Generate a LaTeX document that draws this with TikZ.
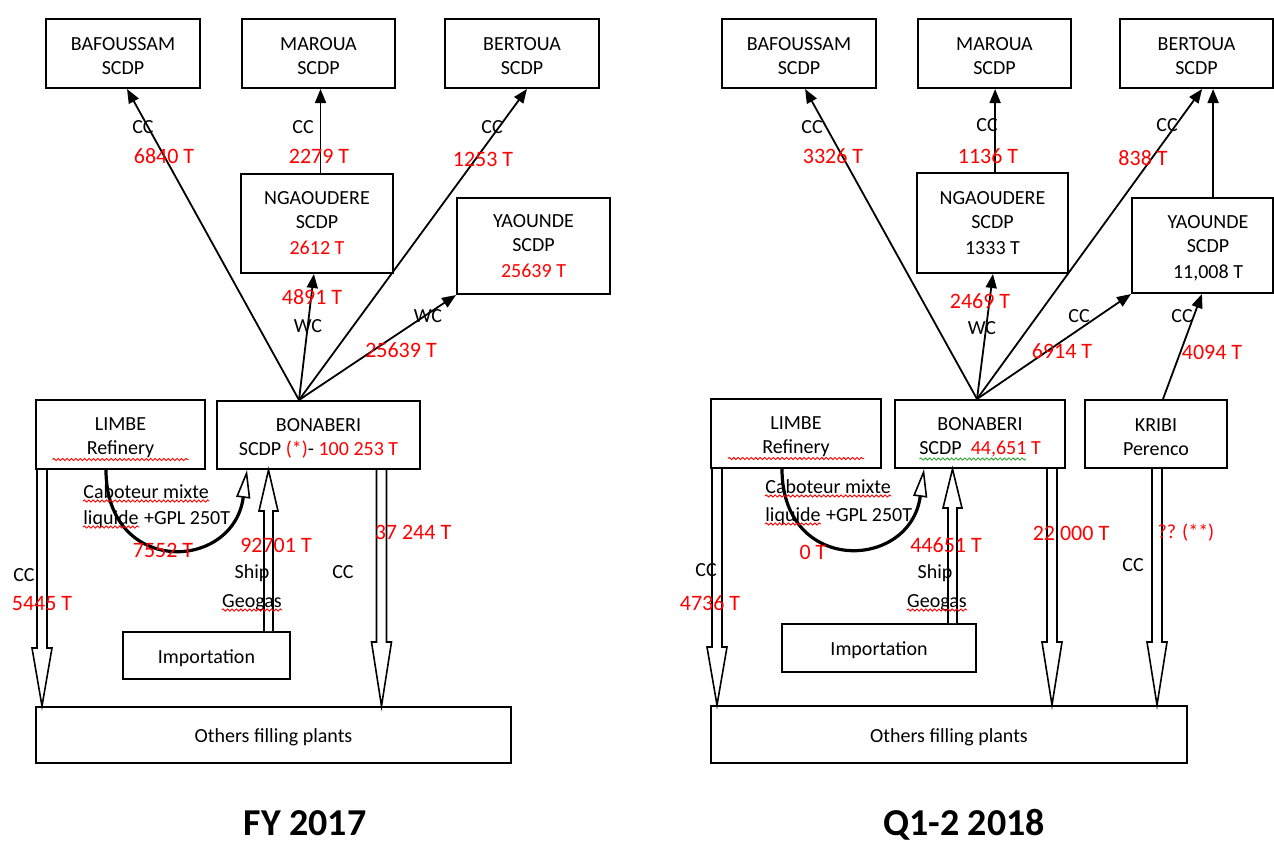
\documentclass[tikz,border=0pt]{standalone}
\usepackage{fontspec}
\setmainfont{Carlito}
\usetikzlibrary{arrows.meta,calc,decorations.pathmorphing}
% raises the first text line of a box so the text sits a little lower
\newcommand\boxstrut{\rule{0pt}{9.5pt}}
% open block arrows: start coordinate, target anchor (its y is used), head length
\newcommand\blockdown[3]{\draw[blk] let \p1=(#1), \p2=(#2) in
  (\x1-2.5pt,\y1) -- (\x1-2.5pt,\y2+#3) -- (\x1-5pt,\y2+#3) -- (\x1,\y2)
  -- (\x1+5pt,\y2+#3) -- (\x1+2.5pt,\y2+#3) -- (\x1+2.5pt,\y1);}
\newcommand\blockup[3]{\draw[blk] let \p1=(#1), \p2=(#2) in
  (\x1-2.25pt,\y1) -- (\x1-2.25pt,\y2-#3) -- (\x1-4.75pt,\y2-#3) -- (\x1,\y2)
  -- (\x1+4.75pt,\y2-#3) -- (\x1+2.25pt,\y2-#3) -- (\x1+2.25pt,\y1);}
\tikzset{
  box/.style={draw, line width=1pt, inner sep=0pt, align=center, font=\fontsize{10}{12}\selectfont},
  arr/.style={line width=0.9pt, -{Triangle[length=7pt,width=5.5pt]}},
  blk/.style={draw, line width=0.8pt, fill=white, line join=miter},
  lbl/.style={inner sep=0pt, font=\fontsize{10}{12}\selectfont},
  num/.style={inner sep=0pt, text=red, font=\fontsize{11}{13}\selectfont},
  curvearr/.style={line width=1.6pt, -{Triangle[open, length=14pt, width=7pt, line width=0.8pt]}},
  heading/.style={inner sep=0pt, anchor=base, font=\fontsize{19}{23}\selectfont\bfseries},
  wavy/.style={draw=red, line width=0.45pt, decorate, decoration={snake, amplitude=0.55pt, segment length=2.2pt}},
  greenwavy/.style={wavy, draw={rgb,1:red,0.2;green,0.65;blue,0.2}},
}
\begin{document}
\begin{tikzpicture}[x=0.5pt, y=-0.5pt]
\useasboundingbox[fill=white] (0,0) rectangle (1274,842);

% ---------------- FY 2017 ----------------
\node[box, minimum width=77pt, minimum height=34.5pt] (bafL) at (123,53.5) {\boxstrut BAFOUSSAM\\SCDP};
\node[box, minimum width=76.5pt, minimum height=34.5pt] (marL) at (318.5,53.5) {\boxstrut MAROUA\\SCDP};
\node[box, minimum width=77pt, minimum height=34.5pt] (berL) at (522,53.5) {\boxstrut BERTOUA\\SCDP};
\node[box, minimum width=76pt, minimum height=49.5pt] (ngaL) at (317,223.5) {NGAOUDERE\\SCDP\\[1pt]\textcolor{red}{2612 T}};
\node[box, minimum width=76.5pt, minimum height=48pt] (yaoL) at (533.5,246) {YAOUNDE\\SCDP\\[1pt]\textcolor{red}{25639 T}};
\node[box, minimum width=84.5pt, minimum height=34.5pt] (limL) at (120.5,434.5) {\boxstrut LIMBE\\Refinery};
\node[box, minimum width=101.5pt, minimum height=34pt] (bonL) at (318.5,435) {\boxstrut BONABERI\\SCDP \textcolor{red}{(*)}- \textcolor{red}{100 253 T}};
\node[box, minimum width=83.5pt, minimum height=23.5pt] (impL) at (206.5,655.5) {\boxstrut Importation};
\node[box, minimum width=237.5pt, minimum height=28pt] (othL) at (273.5,735) {\boxstrut Others filling plants};

\coordinate (fanL) at ([xshift=-9.75pt]bonL.north);
\draw[arr] (fanL) -- ($(bafL.south west)!.526!(bafL.south east)$);
\draw[arr] (fanL) -- ($(berL.south west)!.532!(berL.south east)$);
\draw[arr] (fanL) -- ($(ngaL.south west)!.48!(ngaL.south east)$);
\draw[arr] (fanL) -- (yaoL.south west);
\coordinate (nmL) at ($(ngaL.north west)!.523!(ngaL.north east)$);
\draw[arr] (nmL) -- (nmL |- marL.south);

\coordinate (lsL) at ([xshift=3.5pt]limL.south west);
\blockdown{lsL}{othL.north}{29pt}
\coordinate (bsL) at ([xshift=-19.75pt]bonL.south east);
\blockdown{bsL}{othL.north}{32pt}
\coordinate (isL) at ([xshift=-11.25pt]impL.north east);
\blockup{isL}{bonL.south}{20.5pt}
\draw[curvearr] ([xshift=35.5pt]limL.south west) .. controls +(0,106) and +(-14,102) .. ([xshift=15.5pt]bonL.south west);

\node[lbl] (cc1L) at (143,127) {CC};
\node[num] (t1L) at (164,156) {6840 T};
\node[lbl] (cc2L) at (303,127) {CC};
\node[num] (t2L) at (319,156) {2279 T};
\node[lbl] (cc3L) at (492,127) {CC};
\node[num] (t3L) at (483,159) {1253 T};
\node[num] (t4L) at (312,297) {4891 T};
\node[lbl] (wc1L) at (308,326) {WC};
\node[lbl] (wc2L) at (428,316) {WC};
\node[num] (t5L) at (401,350) {25639 T};
\node[lbl, anchor=base west] (cabL) at (83,498) {Caboteur mixte};
\node[lbl, anchor=base west] (liqL) at (83,524) {liquide};
\node[lbl, anchor=base west] (gplL) at ([xshift=2.3pt]liqL.base east) {+GPL 250T};
\node[num] (t6L) at (163,550) {7552 T};
\node[num] (t7L) at (276,545) {92701 T};
\node[lbl] (shipL) at (252,573) {Ship};
\node[lbl, anchor=base] (geoL) at (252,607) {Geogas};
\node[lbl] (cc4L) at (24,575) {CC};
\node[num] (t8L) at (42,603) {5445 T};
\node[num] (t9L) at (413,532) {37 244 T};
\node[lbl] (cc5L) at (343,572) {CC};
\node[heading] (headL) at (305,835) {FY 2017};

% spell-check squiggles
\draw[wavy] ([xshift=-34pt,yshift=-12.5pt]limL.center) -- ([xshift=34pt,yshift=-12.5pt]limL.center);
\draw[wavy] ([yshift=-1.5pt]cabL.base west) -- ([yshift=-1.5pt]cabL.base east);
\draw[wavy] ([yshift=-1.5pt]liqL.base west) -- ([yshift=-1.5pt]liqL.base east);
\draw[wavy] ([yshift=-1.5pt]geoL.base west) -- ([yshift=-1.5pt]geoL.base east);

% ---------------- Q1-2 2018 ----------------
\node[box, minimum width=77pt, minimum height=34.5pt] (bafR) at (799,53.5) {\boxstrut BAFOUSSAM\\SCDP};
\node[box, minimum width=76.5pt, minimum height=34.5pt] (marR) at (994.5,53.5) {\boxstrut MAROUA\\SCDP};
\node[box, minimum width=76.5pt, minimum height=34.5pt] (berR) at (1196.5,53.5) {\boxstrut BERTOUA\\SCDP};
\node[box, minimum width=75.5pt, minimum height=50pt] (ngaR) at (992.5,223) {NGAOUDERE\\SCDP\\[1pt]1333 T};
\node[box, minimum width=70.5pt, minimum height=47.5pt] (yaoR) at (1202.5,245.5) {};
\node[lbl, align=center] (yaoRtext) at (1208,248) {YAOUNDE\\SCDP\\[1pt]11,008 T};
\node[box, minimum width=85pt, minimum height=34.5pt] (limR) at (796,433.5) {\boxstrut LIMBE\\Refinery};
\node[box, minimum width=85pt, minimum height=34pt] (bonR) at (980,434) {\boxstrut BONABERI\\SCDP\ \ \textcolor{red}{44,651 T}};
\node[box, minimum width=71pt, minimum height=34pt] (kriR) at (1156,434) {\boxstrut KRIBI\\Perenco};
\node[box, minimum width=97pt, minimum height=24pt] (impR) at (879,648) {\boxstrut Importation};
\node[box, minimum width=238pt, minimum height=28.5pt] (othR) at (949,734.5) {\boxstrut Others filling plants};

\coordinate (fanR) at ([xshift=-1.5pt]bonR.north);
\draw[arr] (fanR) -- ($(bafR.south west)!.539!(bafR.south east)$);
\draw[arr] (fanR) -- ($(berR.south west)!.536!(berR.south east)$);
\draw[arr] (fanR) -- ($(ngaR.south west)!.503!(ngaR.south east)$);
\draw[arr] (fanR) -- (yaoR.south west);
\coordinate (nmR) at ($(ngaR.north west)!.517!(ngaR.north east)$);
\draw[arr] (nmR) -- (nmR |- marR.south);
\coordinate (ybR) at ($(yaoR.north west)!.574!(yaoR.north east)$);
\draw[arr] (ybR) -- (ybR |- berR.south);
\draw[arr] ([xshift=3.5pt]kriR.north) -- ($(yaoR.south west)!.496!(yaoR.south east)$);

\coordinate (lsR) at ([xshift=3.5pt]limR.south west);
\blockdown{lsR}{othR.north}{29pt}
\coordinate (bsR) at ([xshift=-7pt]bonR.south east);
\blockdown{bsR}{othR.north}{31.5pt}
\coordinate (ksR) at ([xshift=0.5pt]kriR.south);
\blockdown{ksR}{othR.north}{31.5pt}
\coordinate (isR) at ([xshift=-12.25pt]impR.north east);
\blockup{isR}{bonR.south}{19.5pt}
\draw[curvearr] ([xshift=36pt]limR.south west) .. controls +(0,106) and +(-14,102) .. ([xshift=15pt]bonR.south west);

\node[lbl] (cc1R) at (812,127) {CC};
\node[num] (t1R) at (833,156) {3326 T};
\node[lbl] (cc2R) at (987,125) {CC};
\node[num] (t2R) at (988,156) {1136 T};
\node[lbl] (cc3R) at (1167,125) {CC};
\node[num] (t3R) at (1143,158) {838 T};
\node[num] (t4R) at (980,301) {2469 T};
\node[lbl] (wc1R) at (982,328) {WC};
\node[lbl] (cc4R) at (1079,316) {CC};
\node[num] (t5R) at (1062,351) {6914 T};
\node[lbl] (cc5R) at (1182,316) {CC};
\node[num] (t6R) at (1212,352) {4094 T};
\node[lbl, anchor=base west] (cabR) at (765,493) {Caboteur mixte};
\node[lbl, anchor=base west] (liqR) at (765,521) {liquide};
\node[lbl, anchor=base west] (gplR) at ([xshift=2.3pt]liqR.base east) {+GPL 250T};
\node[num] (t7R) at (813,552) {0 T};
\node[num] (t8R) at (946,545) {44651 T};
\node[lbl] (shipR) at (935,573) {Ship};
\node[lbl, anchor=base] (geoR) at (937,607) {Geogas};
\node[lbl] (cc6R) at (706,570) {CC};
\node[num] (t9R) at (710,603) {4736 T};
\node[num] (t10R) at (1071,533) {22 000 T};
\node[num, font=\fontsize{10}{12}\selectfont] (t11R) at (1186,533) {?? (**)};
\node[lbl] (cc7R) at (1133,565) {CC};
\node[heading] (headR) at (964,835) {Q1-2 2018};

% spell-check squiggles
\draw[wavy] ([xshift=-34pt,yshift=-12.5pt]limR.center) -- ([xshift=34pt,yshift=-12.5pt]limR.center);
\draw[greenwavy] ([xshift=-30.25pt,yshift=-12.5pt]bonR.center) -- ([xshift=23pt,yshift=-12.5pt]bonR.center);
\draw[wavy] ([yshift=-1.5pt]cabR.base west) -- ([yshift=-1.5pt]cabR.base east);
\draw[wavy] ([yshift=-1.5pt]liqR.base west) -- ([yshift=-1.5pt]liqR.base east);
\draw[wavy] ([yshift=-1.5pt]geoR.base west) -- ([yshift=-1.5pt]geoR.base east);
\end{tikzpicture}
\end{document}
